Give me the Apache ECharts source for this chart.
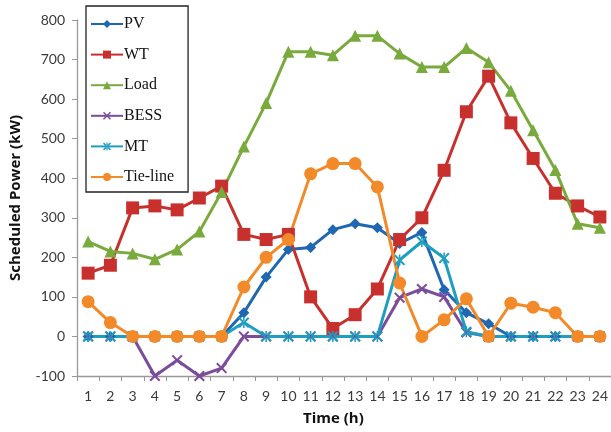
<!DOCTYPE html>
<html><head><meta charset="utf-8">
<script src="https://cdn.jsdelivr.net/npm/echarts@6/dist/echarts.min.js"></script>
<style>html,body{margin:0;padding:0;background:#fff;}#c{width:611px;height:432px;}</style>
</head><body><div id="c"></div>
<script>
const hours = ['1','2','3','4','5','6','7','8','9','10','11','12','13','14','15','16','17','18','19','20','21','22','23','24'];
const pv    = [0,0,0,0,0,0,0,60,150,220,225,270,285,275,235,263,118,60,32,0,0,0,0,0];
const wt    = [160,180,325,330,320,350,380,258,245,258,100,20,55,120,245,300,420,568,658,540,450,362,330,302];
const load  = [240,215,210,195,220,265,365,480,590,720,720,711,760,760,715,681,681,729,693,621,521,421,285,275];
const bess  = [0,0,0,-100,-60,-100,-80,0,0,0,0,0,0,0,98,120,100,10,0,0,0,0,0,0];
const mt    = [0,0,0,0,0,0,0,35,0,0,0,0,0,0,193,240,198,12,0,0,0,0,0,0];
const tie   = [88,35,0,0,0,0,0,125,200,245,411,437,437,378,135,0,42,95,0,84,74,60,0,0];
const yTicks = {min:-100, max:800, step:100};

const XS = 'path://M0,1.3 L1.3,0 L5,3.7 L8.7,0 L10,1.3 L6.3,5 L10,8.7 L8.7,10 L5,6.3 L1.3,10 L0,8.7 L3.7,5 Z';
const AST = 'path://M0,1.3 L1.3,0 L5,3.7 L8.7,0 L10,1.3 L6.3,5 L10,8.7 L8.7,10 L5,6.3 L1.3,10 L0,8.7 L3.7,5 Z M4.3,0 L4.3,10 L5.7,10 L5.7,0 Z';

function s(name, data, color, symbol, size){
  return {name, type:'line', data, symbol, symbolSize:size, showSymbol:true,
    lineStyle:{color, width:3}, itemStyle:{color, borderWidth:0}, emphasis:{disabled:true}, z:2, animation:false};
}
const chart = echarts.init(document.getElementById('c'), null, {renderer:'canvas'});
chart.setOption({
  animation:false,
  grid:{left:76, top:20, width:540, height:356, containLabel:false},
  legend:{
    orient:'vertical', left:86, top:6, width:92,
    padding:[10,14,7,4], itemGap:14.6, itemWidth:32, itemHeight:10,
    borderColor:'#222', borderWidth:1.3, backgroundColor:'#fff',
    textStyle:{fontFamily:'Liberation Serif', fontSize:16, color:'#111', lineHeight:16, padding:[0,0,0,-4]},
    data:['PV','WT','Load','BESS','MT','Tie-line'], z:10
  },
  xAxis:{type:'category', data:hours, boundaryGap:true,
    axisLine:{onZero:false, lineStyle:{color:'#999', width:1.3}},
    axisTick:{show:true, length:5, lineStyle:{color:'#999'}, alignWithLabel:false},
    axisLabel:{fontFamily:'Lato', fontSize:14, color:'#3a3a3a', margin:13},
    splitLine:{show:false}},
  yAxis:{type:'value', min:yTicks.min, max:yTicks.max, interval:yTicks.step,
    name:'Scheduled Power (kW)', nameLocation:'middle', nameGap:54,
    nameTextStyle:{fontFamily:'Open Sans', fontWeight:'bold', fontSize:15, color:'#111'},
    axisLine:{show:true, lineStyle:{color:'#999', width:1.3}},
    axisTick:{show:true, length:5, lineStyle:{color:'#999'}},
    axisLabel:{fontFamily:'Lato', fontSize:14, color:'#3a3a3a', margin:12},
    splitLine:{show:false}},
  graphic:[{type:'text', left:303, top:411, style:{text:'Time (h)', font:'bold 15px "Open Sans"', fill:'#111'}}],
  series:[
    s('PV', pv, '#1F67B1', 'diamond', 11),
    s('WT', wt, '#C8302E', 'rect', 13),
    s('Load', load, '#78AA3C', 'triangle', 12),
    s('BESS', bess, '#7B4C9C', XS, 11),
    s('MT', mt, '#1E9EC0', AST, 11),
    s('Tie-line', tie, '#F28A29', 'circle', 13)
  ]
});
</script></body></html>
